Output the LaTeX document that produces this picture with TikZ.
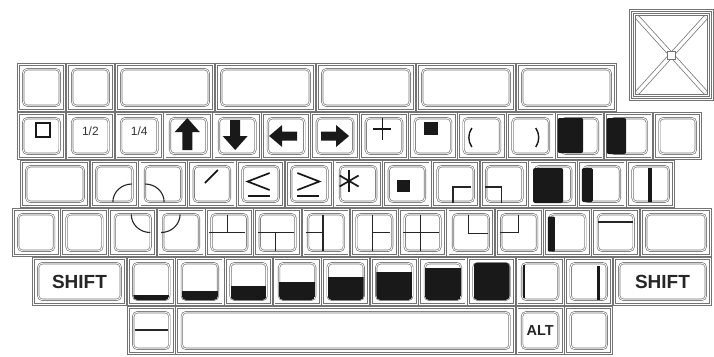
\documentclass[tikz,border=0pt]{standalone}
\usepackage{fontspec}
\setmainfont{Liberation Sans}
\usetikzlibrary{calc}
\tikzset{
  keyout/.style={rectangle, draw=black!55, double=white, double distance=1.1pt, line width=0.75pt, inner sep=0pt, outer sep=0pt},
  keycap/.style={draw=black!55, double=white, double distance=0.9pt, line width=0.65pt, rounded corners=4pt},
  sym/.style={draw=black!90, line width=1.7pt},
  bx/.style={draw=black!85, line width=1.1pt},
  blk/.style={fill=black!90},
  smalllbl/.style={font=\fontsize{12}{12}\selectfont, text=black!80, inner sep=0pt},
  xdiag/.style={draw=black!55, double=white, double distance=3.5pt, line width=0.75pt},
}
\newcommand\kk[6]{%
  \pgfmathsetmacro\kw{#3-#2-2.5}\pgfmathsetmacro\kh{#5-#4-2.5}%
  \node[keyout, minimum width=\kw pt, minimum height=\kh pt] (#1) at ({(#2+#3)/2},{(#4+#5)/2}) {#6};
  \draw[keycap] ($(#1.north west)+(5,5)$) rectangle ($(#1.south east)+(-5,-5)$);
}
\newcommand\inkey[2]{\begin{scope}[shift={(#1.center)}]#2\end{scope}}
\begin{document}
\begin{tikzpicture}[x=1pt,y=-1pt]
\useasboundingbox (0,0) rectangle (714,356);
\clip (0,0) rectangle (714,356);
% ---------- big X key
\node[keyout, minimum width=82pt, minimum height=89pt] (xkey) at (671.5,55) {};
\draw[keyout] ($(xkey.north west)+(4,4)$) rectangle ($(xkey.south east)+(-4,-4)$);
\draw[xdiag] ($(xkey.north west)+(7,7)$) -- ($(xkey.south east)+(-7,-7)$);
\draw[xdiag] ($(xkey.north east)+(-7,7)$) -- ($(xkey.south west)+(7,-7)$);
\draw[draw=black!55, fill=white, line width=0.75pt] ($(xkey.center)+(-4,-4)$) rectangle ($(xkey.center)+(4,4)$);
% ---------- row 1
\kk{r1k0}{17}{66}{63}{112}{}
\kk{r1k1}{66}{115}{63}{112}{}
\kk{r1k2}{115}{215}{63}{112}{}
\kk{r1k3}{215}{316}{63}{112}{}
\kk{r1k4}{316}{416}{63}{112}{}
\kk{r1k5}{416}{516}{63}{112}{}
\kk{r1k6}{516}{617}{63}{112}{}
% ---------- row 2
\foreach \i in {0,...,13}{
  \pgfmathsetmacro\xa{17+\i*48.93}\pgfmathsetmacro\xb{\xa+48.93}
  \kk{r2k\i}{\xa}{\xb}{112}{160}{}
}
% ---------- row 3
\kk{r3w}{20}{90}{160}{208}{}
\foreach \i in {0,...,11}{
  \pgfmathsetmacro\xa{90+\i*48.75}\pgfmathsetmacro\xb{\xa+48.75}
  \kk{r3k\i}{\xa}{\xb}{160}{208}{}
}
% ---------- row 4
\foreach \i in {0,...,12}{
  \pgfmathsetmacro\xa{12+\i*48.3}\pgfmathsetmacro\xb{\xa+48.3}
  \kk{r4k\i}{\xa}{\xb}{208}{257}{}
}
\kk{r4w}{640}{712}{208}{257}{}
% ---------- row 5
\kk{shl}{32}{127}{257}{306}{\textcolor{black!85}{\fontsize{19}{19}\selectfont\bfseries SHIFT}}
\foreach \i in {0,...,9}{
  \pgfmathsetmacro\xa{127+\i*48.6}\pgfmathsetmacro\xb{\xa+48.6}
  \kk{r5k\i}{\xa}{\xb}{257}{306}{}
}
\kk{shr}{613}{712}{257}{306}{\textcolor{black!85}{\fontsize{19}{19}\selectfont\bfseries SHIFT}}
% ---------- row 6
\kk{r6k0}{127}{175.6}{306}{355}{}
\kk{space}{175.6}{515.8}{306}{355}{}
\kk{alt}{515.8}{564.4}{306}{355}{\textcolor{black!85}{\fontsize{14.5}{14.5}\selectfont\bfseries ALT}}
\kk{r6k3}{564.4}{613}{306}{355}{}

% ========== symbols row 2
\inkey{r2k0}{\draw[sym, line width=1.8pt] (-5.5,-13) rectangle (8.5,1);}
\node[smalllbl] (t12) at ($(r2k1.center)+(0,-4.5)$) {1/2};
\node[smalllbl] (t14) at ($(r2k2.center)+(0,-4.5)$) {1/4};
\inkey{r2k3}{\fill[black!90] (-1,-18) -- (11.5,-4) -- (4,-4) -- (4,14) -- (-6,14) -- (-6,-4) -- (-13.5,-4) -- cycle;}
\inkey{r2k4}{\fill[black!90] (-2,14) -- (10.5,0) -- (3,0) -- (3,-16) -- (-7,-16) -- (-7,0) -- (-14.5,0) -- cycle;}
\inkey{r2k5}{\fill[black!90] (-17,0) -- (-4,-11) -- (-4,-4.5) -- (11,-4.5) -- (11,4.5) -- (-4,4.5) -- (-4,11) -- cycle;}
\inkey{r2k6}{\fill[black!90] (14,0) -- (1,-11) -- (1,-4.5) -- (-14,-4.5) -- (-14,4.5) -- (1,4.5) -- (1,11) -- cycle;}
\inkey{r2k7}{\draw[sym] (-10.5,-7) -- (7.5,-7); \draw[sym] (-1.5,-18) -- (-1.5,4);}
\inkey{r2k8}{\fill[black!90] (-9,-14) rectangle (5,-1);}
\inkey{r2k9}{\draw[sym, line width=1.4pt] (-10,-8) .. controls (-14,-2) and (-14,5) .. (-10,11);}
\inkey{r2k10}{\draw[sym, line width=1.4pt] (5,-8) .. controls (9,-2) and (9,5) .. (5,11);}
\inkey{r2k11}{\fill[black!90, rounded corners=2pt] (-22,-18) rectangle (3.5,17);}
\inkey{r2k12}{\fill[black!90, rounded corners=2pt] (-22,-18) rectangle (-2.5,18);}
% ========== symbols row 3
\inkey{r3k0}{\draw[bx] (-1.5,18) arc[start angle=180, end angle=270, x radius=19, y radius=18];}
\inkey{r3k1}{\draw[bx] (-18,0) arc[start angle=270, end angle=360, x radius=19, y radius=18];}
\inkey{r3k2}{\draw[sym] (-7,-1) -- (6,-14);}
\inkey{r3k3}{\draw[sym] (9,-11) -- (-13,-2.5) -- (9,6); \draw[sym] (-13,12) -- (9,12);}
\inkey{r3k4}{\draw[sym] (-12,-11) -- (10,-2.5) -- (-12,6); \draw[sym] (-12,12) -- (10,12);}
\inkey{r3k5}{\begin{scope}[shift={(-9,-3)}]
  \draw[sym] (0,-11) -- (0,11);
  \draw[sym] (-9.5,-5.5) -- (9.5,5.5);
  \draw[sym] (-9.5,5.5) -- (9.5,-5.5);
\end{scope}}
\inkey{r3k6}{\fill[black!90] (-10,-4) rectangle (3,8);}
\inkey{r3k7}{\draw[bx] (-2.6,19) -- (-2.6,3) -- (15,3);}
\inkey{r3k8}{\draw[bx] (-19.4,3) -- (-2.7,3) -- (-2.7,19);}
\inkey{r3k9}{\fill[black!90, rounded corners=2pt] (-20,-16) rectangle (10,19);}
\inkey{r3k10}{\fill[black!90, rounded corners=1.5pt] (-20,-16) rectangle (-9,18);}
\inkey{r3k11}{\fill[black!90] (-2.6,-16) rectangle (1.4,18);}
% ========== symbols row 4
\inkey{r4k2}{\draw[bx] (-1.5,-18) arc[start angle=180, end angle=90, x radius=19, y radius=18];}
\inkey{r4k3}{\draw[bx] (-20,0) arc[start angle=90, end angle=0, x radius=19, y radius=18];}
\inkey{r4k4}{\draw[bx] (-20,0) -- (16,0); \draw[bx] (-2,-18) -- (-2,0);}
\inkey{r4k5}{\draw[bx] (-20,0) -- (16,0); \draw[bx] (-2,0) -- (-2,18);}
\inkey{r4k6}{\draw[bx] (-3,-18) -- (-3,18); \draw[bx] (-20,0) -- (-3,0);}
\inkey{r4k7}{\draw[bx] (-1.5,-18) -- (-1.5,18); \draw[bx] (-1.5,0) -- (16,0);}
\inkey{r4k8}{\draw[bx] (-2.5,-18) -- (-2.5,18); \draw[bx] (-20,0) -- (16,0);}
\inkey{r4k9}{\draw[bx] (-2,-18) -- (-2,1) -- (17,1);}
\inkey{r4k10}{\draw[bx] (-19,0) -- (-1,0) -- (-1,-18);}
\inkey{r4k11}{\fill[black!90, rounded corners=1pt] (-19.5,-16) rectangle (-12.5,19);}
\inkey{r4k12}{\draw[bx, line width=1.4pt] (-18,-10.5) -- (17,-10.5);}
% ========== symbols row 5
\foreach \i in {0,...,7}{
  \pgfmathsetmacro\hh{4.6*(\i+1)}
  \begin{scope}[shift={(r5k\i.center)}]
    \clip[rounded corners=4pt] (-18,-19) rectangle (18,18.5);
    \fill[black!90] (-18,{18.5-\hh}) rectangle (18,18.5);
  \end{scope}
}
\inkey{r5k8}{\fill[black!90] (-17.5,-16.5) rectangle (-15,16.5);}
\inkey{r5k9}{\fill[black!90] (8.5,-16) rectangle (11,18);}
% ========== symbols row 6
\inkey{r6k0}{\draw[bx, line width=1.3pt] (-16,-0.5) -- (17,-0.5);}
\end{tikzpicture}
\end{document}
